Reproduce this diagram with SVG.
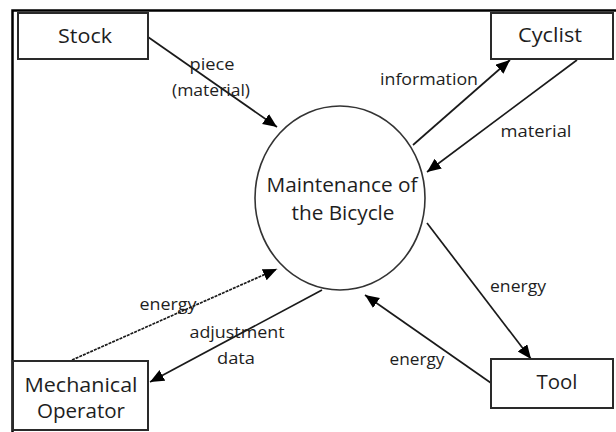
<svg xmlns="http://www.w3.org/2000/svg" width="616" height="432" viewBox="0 0 616 432">
<style>
.box{fill:#fff;stroke:#2a2a2a;stroke-width:2}
.frame{stroke:#000;stroke-width:2.5;fill:none}
.t{font-family:"Open Sans","Liberation Sans",sans-serif;fill:#1e1e1e;text-anchor:middle}
.big{font-size:20px}
.lbl{font-size:16px}
.c{stroke:#1a1a1a;stroke-width:1.7;fill:none;marker-end:url(#ah)}
</style>
<defs>
<marker id="ah" markerUnits="userSpaceOnUse" markerWidth="16" markerHeight="14" refX="14" refY="6" orient="auto">
<path d="M0,0 L14,6 L0,12 Z" fill="#000"/>
</marker>
</defs>
<rect width="616" height="432" fill="#fff"/>
<path class="frame" d="M12.5,432 V10.5 H616"/>
<g id="connectors">
<line class="c" x1="148" y1="37" x2="277" y2="127"/>
<line class="c" x1="413" y1="145" x2="510" y2="60"/>
<line class="c" x1="577" y1="60" x2="427" y2="172"/>
<line class="c" x1="72" y1="360" x2="277" y2="269" stroke-dasharray="3 1"/>
<line class="c" x1="322" y1="290" x2="150" y2="382"/>
<line class="c" x1="427" y1="223" x2="531" y2="359"/>
<line class="c" x1="491" y1="383" x2="365" y2="295"/>
</g>
<g id="labels">
<text class="t lbl" x="212" y="70" textLength="45" lengthAdjust="spacingAndGlyphs">piece</text>
<text class="t lbl" x="211" y="96" textLength="78" lengthAdjust="spacingAndGlyphs">(material)</text>
<text class="t lbl" x="429" y="85" textLength="98" lengthAdjust="spacingAndGlyphs">information</text>
<text class="t lbl" x="536" y="137" textLength="71" lengthAdjust="spacingAndGlyphs">material</text>
<text class="t lbl" x="168" y="310" textLength="57" lengthAdjust="spacingAndGlyphs">energy</text>
<text class="t lbl" x="237" y="338" textLength="95" lengthAdjust="spacingAndGlyphs">adjustment</text>
<text class="t lbl" x="236" y="364" textLength="38" lengthAdjust="spacingAndGlyphs">data</text>
<text class="t lbl" x="518" y="292" textLength="56" lengthAdjust="spacingAndGlyphs">energy</text>
<text class="t lbl" x="417" y="365" textLength="55" lengthAdjust="spacingAndGlyphs">energy</text>
</g>
<g id="stock">
<rect class="box" x="18" y="13" width="130" height="46"/>
<text class="t big" x="85" y="43" textLength="54" lengthAdjust="spacingAndGlyphs">Stock</text>
</g>
<g id="cyclist">
<rect class="box" x="491" y="13" width="122" height="46"/>
<text class="t big" x="550" y="42" textLength="64" lengthAdjust="spacingAndGlyphs">Cyclist</text>
</g>
<g id="mechanical-operator">
<rect class="box" x="13" y="361" width="135" height="69"/>
<text class="t big" x="81" y="392" textLength="113" lengthAdjust="spacingAndGlyphs">Mechanical</text>
<text class="t big" x="81" y="418" textLength="88" lengthAdjust="spacingAndGlyphs">Operator</text>
</g>
<g id="tool">
<rect class="box" x="491" y="359" width="122" height="49"/>
<text class="t big" x="557" y="389" textLength="41" lengthAdjust="spacingAndGlyphs">Tool</text>
</g>
<g id="maintenance">
<ellipse cx="340" cy="198" rx="85" ry="92" fill="#fff" stroke="#333" stroke-width="1.6"/>
<text class="t big" x="342" y="192" textLength="151" lengthAdjust="spacingAndGlyphs">Maintenance of</text>
<text class="t big" x="343" y="220" textLength="103" lengthAdjust="spacingAndGlyphs">the Bicycle</text>
</g>
</svg>
